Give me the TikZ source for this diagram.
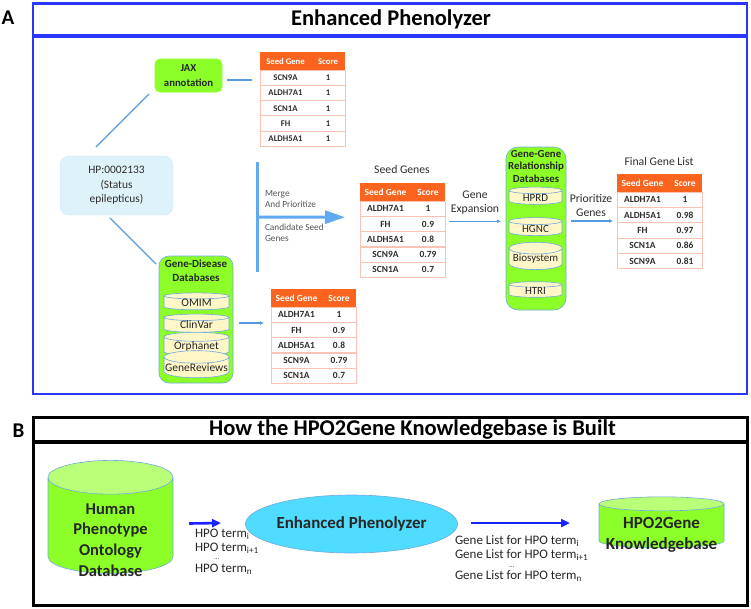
\documentclass[tikz,border=0pt]{standalone}
\usepackage{fontspec}
\setmainfont{Carlito}
\usetikzlibrary{matrix,positioning,arrows.meta,shapes.geometric}

\definecolor{frameblue}{RGB}{40,55,250}
\definecolor{linkblue}{RGB}{85,155,225}
\definecolor{mergeblue}{RGB}{95,170,240}
\definecolor{boxgreen}{RGB}{140,255,40}
\definecolor{boxedge}{RGB}{110,170,220}
\definecolor{hpfill}{RGB}{222,242,250}
\definecolor{hpedge}{RGB}{205,232,245}
\definecolor{hdrorange}{RGB}{250,100,30}
\definecolor{rowline}{RGB}{250,195,180}
\definecolor{tabtext}{RGB}{45,45,45}
\definecolor{creamfill}{RGB}{255,247,200}
\definecolor{cylgreen}{RGB}{140,255,40}
\definecolor{cyltop}{RGB}{185,255,120}
\definecolor{cyanfill}{RGB}{80,220,255}
\definecolor{arrowblue}{RGB}{25,35,255}
\definecolor{notegray}{RGB}{85,85,85}

\begin{document}
\begin{tikzpicture}[x=1pt, y=-1pt,
  every node/.style={inner sep=0pt, outer sep=0pt},
  panellabel/.style={font=\fontsize{21}{21}\selectfont\bfseries},
  titlebar/.style={line width=2.5pt, minimum width=714, font=\fontsize{22.5}{24}\selectfont\bfseries},
  frameline/.style={line width=2.5pt},
  greenbox/.style={draw=boxedge, line width=0.6pt, fill=boxgreen, rounded corners=10pt},
  boxtitle/.style={align=center, text=black!85, font=\fontsize{11}{14}\selectfont\bfseries},
  dbcyl/.style={cylinder, shape border rotate=90, aspect=0.2, draw=boxedge, line width=0.6pt,
    fill=creamfill, minimum width=65, minimum height=12, font=\fontsize{11.5}{12}\selectfont, text=black!85},
  ggcyl/.style={dbcyl, aspect=0.26, minimum width=53, minimum height=15, font=\fontsize{11}{12}\selectfont},
  bigcyl/.style={cylinder, shape border rotate=90, draw=boxedge, line width=0.6pt, minimum width=125,
    cylinder uses custom fill, cylinder body fill=cylgreen, cylinder end fill=cyltop},
  bigtext/.style={align=center, text=black!85, font=\fontsize{16.5}{20.7}\selectfont\bfseries},
  genetable/.style={matrix of nodes, row sep=0pt, column sep=0pt, inner sep=0pt,
    nodes={minimum height=15.2, text=tabtext, font=\fontsize{9.4}{10}\selectfont\bfseries},
    column 1/.style={nodes={minimum width=51}},
    column 2/.style={nodes={minimum width=34}},
    row 1/.style={nodes={fill=hdrorange, text=white, minimum height=18}}},
  rowbox/.style={draw=rowline, line width=0.8pt},
  lbl/.style={text=tabtext, align=center, font=\fontsize{11.7}{14}\selectfont},
  note/.style={text=notegray, align=left, font=\fontsize{9.3}{11}\selectfont},
  link/.style={draw=linkblue, line width=1.2pt},
  linkarrow/.style={link, -{Latex[length=4pt,width=4pt]}},
  mergebar/.style={draw=mergeblue, line width=3pt},
  bigarrow/.style={draw=arrowblue, line width=2.6pt, -{Triangle[length=9pt,width=8pt]}},
  termlist/.style={align=left, anchor=base west, text=black!85, font=\fontsize{13}{14}\selectfont}]

\useasboundingbox (0,0) rectangle (751,608);

% panel A frame
\node (labelA) [panellabel] at (8,18) {A};
\node (titleA) [titlebar, draw=frameblue, minimum height=31.5] at (390,19.25) {};
\node (titleAtxt) [font=\fontsize{22.5}{24}\selectfont\bfseries] at (391,19.25) {Enhanced Phenolyzer};
\draw[frameline, frameblue] (33,37) rectangle (747,394);

% phenotype term and its sources
\node (hp) [draw=hpedge, fill=hpfill, rounded corners=9pt, minimum width=113, minimum height=59,
  align=center, text=tabtext, font=\fontsize{11.4}{14.5}\selectfont] at (116.5,185.5) {HP:0002133\\(Status\\epilepticus)};
\node (jax) [greenbox, draw=boxgreen, rounded corners=5pt, minimum width=67, minimum height=33,
  boxtitle, font=\fontsize{10.7}{14.5}\selectfont\bfseries] at (188.5,75.5) {JAX\\annotation};

\node (gd) [greenbox, minimum width=74, minimum height=127] at (196,319.5) {};
\node (gdTitle) [boxtitle, below=4pt of gd.north] {Gene-Disease\\Databases};
\node (omim) [dbcyl] at (196.5,303) {OMIM};
\node (clinvar) [dbcyl] at (196.5,325) {ClinVar};
\node (orphanet) [dbcyl] at (196.5,346.5) {Orphanet};
\node (genereviews) [dbcyl] at (196.5,367.5) {GeneReviews};

% candidate tables
\matrix (jaxT) [genetable, anchor=north west,
  nodes={font=\fontsize{8.7}{9}\selectfont\bfseries}] at (260,52) {
  Seed Gene & Score \\
  SCN9A & 1 \\
  ALDH7A1 & 1 \\
  SCN1A & 1 \\
  FH & 1 \\
  ALDH5A1 & 1 \\
};
\matrix (gdT) [genetable, anchor=north west] at (271,289) {
  Seed Gene & Score \\
  ALDH7A1 & 1 \\
  FH & 0.9 \\
  ALDH5A1 & 0.8 \\
  SCN9A & 0.79 \\
  SCN1A & 0.7 \\
};

% merged seed genes
\node (seedLbl) [lbl] at (402,169) {Seed Genes};
\matrix (seedT) [genetable, anchor=north west] at (360,183) {
  Seed Gene & Score \\
  ALDH7A1 & 1 \\
  FH & 0.9 \\
  ALDH5A1 & 0.8 \\
  SCN9A & 0.79 \\
  SCN1A & 0.7 \\
};

% gene-gene relationship databases
\node (gg) [greenbox, rounded corners=12pt, minimum width=60, minimum height=163] at (536,228.5) {};
\node (ggTitle) [boxtitle, below=3pt of gg.north, font=\fontsize{10.8}{12.7}\selectfont\bfseries] {Gene-Gene\\Relationship\\Databases};
\node (hprd) [ggcyl] at (535.5,197.5) {HPRD};
\node (hgnc) [ggcyl] at (535.5,228.5) {HGNC};
\node (biosystem) [ggcyl] at (535.5,259) {Biosystem};
\node (htri) [ggcyl] at (535.5,291) {HTRI};

% final list
\node (finalLbl) [lbl] at (659,161) {Final Gene List};
\matrix (finalT) [genetable, anchor=north west] at (617,174) {
  Seed Gene & Score \\
  ALDH7A1 & 1 \\
  ALDH5A1 & 0.98 \\
  FH & 0.97 \\
  SCN1A & 0.86 \\
  SCN9A & 0.81 \\
};

\foreach \t in {jaxT,gdT,seedT,finalT}
  \foreach \r in {2,...,6}
    \draw[rowbox] (\t-\r-1.north west) rectangle (\t-\r-2.south east);

\node (expLbl) [lbl] at (475,203) {Gene\\Expansion};
\node (prioLbl) [lbl] at (591,205) {Prioritize\\Genes};
\node (mergeLbl) [note, anchor=west] at (265,199) {Merge\\And Prioritize};
\node (candLbl) [note, anchor=west] at (265,232.5) {Candidate Seed\\Genes};

% connectors
\draw[link] ([shift={(-20.5,-9)}]hp.north) -- ([shift={(-6,2)}]jax.south west);
\draw[link] ([shift={(-6.5,3)}]hp.south) -- ([shift={(-3,8)}]gd.north west);
\draw[link] ([shift={(5,4.5)}]jax.east) -- ([shift={(-8,4.5)}]jax.east -| jaxT.west);
\draw[linkarrow] ([shift={(6,3.5)}]gd.east) -- ([shift={(-7,3.5)}]gd.east -| gdT.west);

\coordinate (mergeTop) at (257,162);
\coordinate (mergeBot) at (257,272);
\coordinate (mergeMid) at (257,217);
\coordinate (mergeEnd) at ([shift={(-15,-13)}]seedT.west);
\draw[mergebar] (mergeTop) -- (mergeBot);
\draw[mergebar, -{Triangle[length=20pt,width=13pt]}] (mergeMid) -- (mergeEnd);

\draw[linkarrow] ([shift={(4,-9)}]seedT.east) -- ([shift={(-5,-9)}]seedT.east -| gg.west);
\draw[linkarrow] ([shift={(5,-7.5)}]gg.east) -- ([shift={(-4,-7.5)}]gg.east -| finalT.west);

% panel B frame
\node (labelB) [panellabel] at (18.5,431) {B};
\node (titleB) [titlebar, draw=black, minimum height=23.5] at (390.5,429.25) {};
\node (titleBtxt) [font=\fontsize{22.5}{24}\selectfont\bfseries] at (412.5,429.25) {How the HPO2Gene Knowledgebase is Built};
\draw[frameline] (33.5,443) rectangle (747.5,605.5);

\node (hpoDb) [bigcyl, aspect=0.27, minimum height=113] at (110.5,525.5) {\hspace*{125pt}};
\node (hpoDbTxt) [bigtext] at ([shift={(0,14.5)}]hpoDb.center) {Human\\Phenotype\\Ontology\\Database};
\node (ep) [ellipse, draw=boxedge, line width=0.6pt, fill=cyanfill, minimum width=170, minimum height=58,
  text=black!85, font=\fontsize{16.9}{18}\selectfont\bfseries] at (351.5,524) {Enhanced Phenolyzer};
\node (kb) [bigcyl, aspect=0.112, minimum height=51] at (661.5,526) {\hspace*{125pt}};
\node (kbTxt) [bigtext, font=\fontsize{17}{21}\selectfont\bfseries] at ([shift={(0,8.5)}]kb.center) {HPO2Gene\\Knowledgebase};

\draw[bigarrow] ([shift={(16,-2)}]hpoDb.east) -- ([shift={(-24.5,-1)}]ep.west);
\draw[bigarrow] ([shift={(13.5,-1)}]ep.east) -- ([shift={(-29,-3)}]kb.west);

\node (terms) [termlist] at (195,572.3)
  {HPO term\textsubscript{i}\\HPO term\textsubscript{i+1}\\[-5.8pt]\hspace*{19pt}{\fontsize{7}{7}\selectfont...}\\[-1.2pt]HPO term\textsubscript{n}};
\node (genes) [termlist, font=\fontsize{13}{14.3}\selectfont] at (455,579.5)
  {Gene List for HPO term\textsubscript{i}\\Gene List for HPO term\textsubscript{i+1}\\[-6pt]\hspace*{54pt}{\fontsize{7}{7}\selectfont...}\\[-1.9pt]Gene List for HPO term\textsubscript{n}};
\end{tikzpicture}
\end{document}
